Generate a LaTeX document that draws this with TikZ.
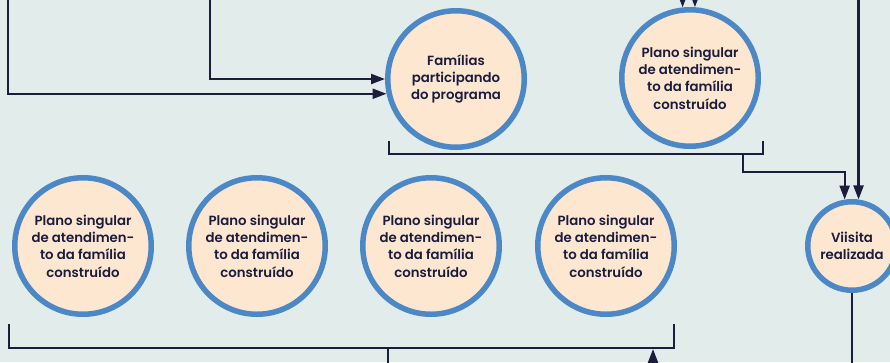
\documentclass[tikz,border=0pt]{standalone}
\usepackage{fontspec}
\setmainfont{Poppins}[BoldFont={Poppins SemiBold}]
\usetikzlibrary{arrows.meta}
\definecolor{bgc}{HTML}{E2ECEA}
\definecolor{ringc}{HTML}{4D88C6}
\definecolor{fillc}{HTML}{FDE7D1}
\definecolor{inkc}{HTML}{1B1D3D}
\tikzset{
  stage/.style={circle, draw=ringc, fill=fillc, line width=5.5pt, inner sep=0pt,
    minimum size=136.5pt, align=center, text=inkc,
    font=\fontsize{13.3}{17.3}\selectfont\bfseries},
  smallstage/.style={stage, minimum size=88.5pt},
  link/.style={draw=inkc, line width=2.2pt},
  arr/.style={link, -{Triangle[length=14pt,width=10pt]}},
}
\begin{document}
\begin{tikzpicture}[x=1pt,y=-1pt]
\useasboundingbox (0,0) rectangle (890,362);
\fill[bgc] (0,0) rectangle (890,362);
% top row
\node[stage] (fam) at (456,79) {Famílias\\participando\\do programa};
\node[stage] (pl0) at (690,78) {Plano singular\\de atendimen-\\to da família\\construído};
% bottom row
\node[stage] (pl1) at (83,246) {Plano singular\\de atendimen-\\to da família\\construído};
\node[stage] (pl2) at (257,246) {Plano singular\\de atendimen-\\to da família\\construído};
\node[stage] (pl3) at (431,246) {Plano singular\\de atendimen-\\to da família\\construído};
\node[stage] (pl4) at (606,246) {Plano singular\\de atendimen-\\to da família\\construído};
\node[smallstage] (vis) at (852,246) {Viisita\\realizada};
% free ends
\coordinate (inA) at (210,-5);
\coordinate (inB) at (8,-5);
\coordinate (topE) at (0,-5);
\coordinate (botE) at (0,370);
% incoming arrows
\draw[arr] (inA) |- (fam.west);
\draw[arr] (inB) |- (fam.192);
\draw[arr] (pl0.96 |- topE) -- (pl0.96);
\draw[arr] (pl0.86 |- topE) -- (pl0.86);
\draw[arr] (vis.82 |- topE) -- (vis.82);
% bracket under top row
\coordinate (b1a) at (389,141);
\coordinate (b1b) at (763,141);
\coordinate (b1s) at (743,154);
\coordinate (b1k) at (743,172);
\draw[link] (b1a) |- (b1b |- b1s) -- (b1b);
\draw[arr] (b1s) -- (b1k) -| (vis.99);
% bracket under bottom row
\coordinate (b2a) at (9,324);
\coordinate (b2b) at (674,324);
\coordinate (b2s) at (388,348);
\draw[link] (b2a) |- (b2b |- b2s) -- (b2b);
\draw[link] (b2s) -- (b2s |- botE);
\draw[arr] (653,370) -- (653,349);
% visit output
\draw[link] (vis.south) -- (vis.south |- botE);
\end{tikzpicture}
\end{document}
